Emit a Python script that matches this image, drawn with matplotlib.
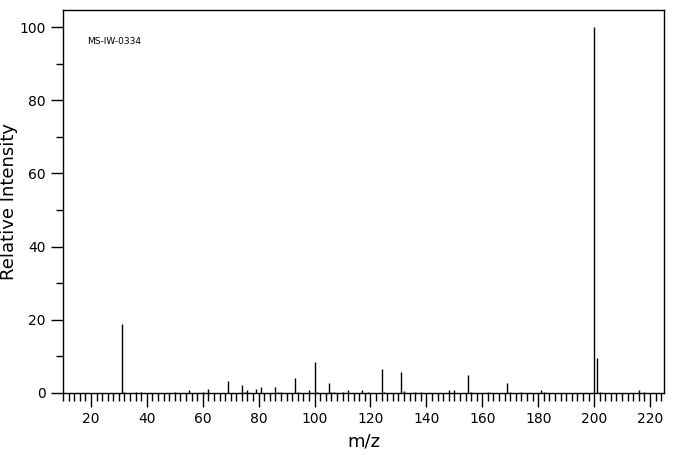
import matplotlib
matplotlib.use("Agg")
import matplotlib.pyplot as plt
from matplotlib.ticker import MultipleLocator

# peak list (m/z, relative intensity)
mz = [31, 32, 36, 38, 50, 55, 60, 62, 69, 74, 75, 76, 79, 81,
      86, 87, 88, 93, 94, 98, 100, 101, 105, 106, 107, 110, 112,
      117, 119, 124, 125, 131, 132, 136, 138, 148, 150, 155, 156,
      162, 169, 170, 174, 181, 182, 200, 201, 202, 216, 218]
intensity = [18.9, 0.4, 0.3, 0.3, 0.4, 0.9, 0.4, 1.2, 3.2, 2.3, 0.4, 0.9, 1.2, 1.7,
             1.7, 0.4, 0.4, 4.2, 0.4, 0.9, 8.6, 0.3, 2.6, 0.4, 0.4, 0.4, 0.9,
             0.9, 0.4, 6.6, 0.4, 5.8, 0.6, 0.4, 0.4, 0.9, 0.9, 5.0, 0.4,
             0.4, 2.8, 0.4, 0.4, 0.9, 0.4, 100.0, 9.7, 0.4, 0.9, 0.4]

fig = plt.figure(figsize=(6.76, 4.55), dpi=100)
ax = fig.add_axes([63 / 676, 62 / 455, 601 / 676, 383.5 / 455])

ax.vlines(mz, 0, intensity, color='black', linewidth=1.0)

ax.set_xlim(10, 225)
ax.set_ylim(0, 104.8)

ax.xaxis.set_major_locator(MultipleLocator(20))
ax.xaxis.set_minor_locator(MultipleLocator(2))
ax.yaxis.set_major_locator(MultipleLocator(20))
ax.yaxis.set_minor_locator(MultipleLocator(10))
ax.tick_params(which='both', direction='out', width=1.0, labelsize=10,
               top=False, right=False)
ax.tick_params(which='major', length=10)
ax.tick_params(which='minor', length=5.5)
ax.tick_params(axis='y', which='major', length=9)
ax.tick_params(axis='y', which='minor', length=5)

for s in ax.spines.values():
    s.set_linewidth(1.0)

ax.set_xlabel('m/z', fontsize=13, labelpad=5)
ax.set_ylabel('Relative Intensity', fontsize=13, labelpad=1)

ax.text(24 / 601, (393 - 41) / 383.5, 'MS-IW-0334', transform=ax.transAxes,
        fontsize=6.5, va='center', ha='left')

fig.savefig('out.png', dpi=100)
